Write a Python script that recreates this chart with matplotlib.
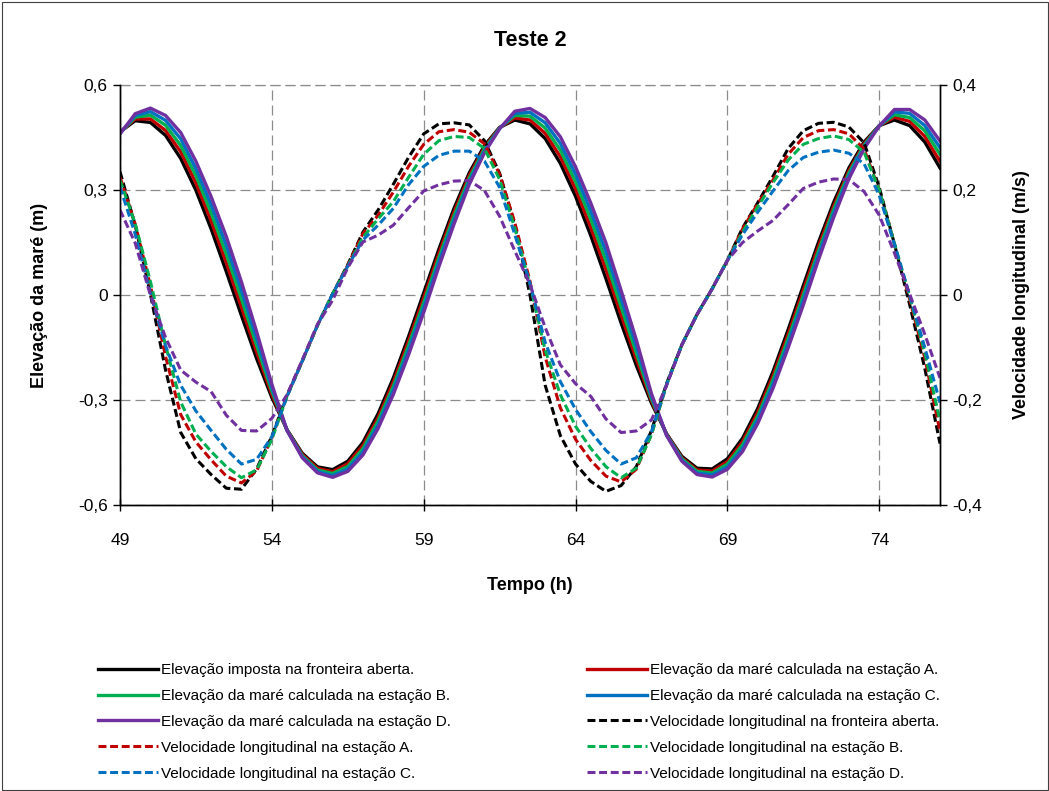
import numpy as np
import matplotlib
matplotlib.use("Agg")
import matplotlib.pyplot as plt
from matplotlib.patches import Rectangle

plt.rcParams["font.family"] = ["Liberation Sans", "DejaVu Sans"]

# ----- data (half-hour samples) -----
tempo = np.arange(49.0, 76.01, 0.5)

# tidal elevation (m), left axis
elev_fronteira = [0.466, 0.498, 0.493, 0.456, 0.390, 0.299, 0.189, 0.067, -0.059, -0.182, -0.293,
                  -0.385, -0.452, -0.491, -0.499, -0.475, -0.421, -0.339, -0.237, -0.119, 0.006,
                  0.131, 0.248, 0.349, 0.427, 0.479, 0.500, 0.489, 0.447, 0.376, 0.282, 0.170,
                  0.047, -0.080, -0.201, -0.309, -0.397, -0.461, -0.495, -0.497, -0.468, -0.409,
                  -0.324, -0.219, -0.099, 0.027, 0.151, 0.265, 0.363, 0.437, 0.484, 0.500, 0.484,
                  0.437, 0.363]
elev_A = [0.465, 0.503, 0.503, 0.470, 0.409, 0.320, 0.212, 0.092, -0.035, -0.163, -0.284,
          -0.386, -0.455, -0.495, -0.505, -0.482, -0.430, -0.350, -0.249, -0.132, -0.008,
          0.119, 0.237, 0.341, 0.422, 0.478, 0.506, 0.500, 0.462, 0.395, 0.303, 0.193,
          0.073, -0.057, -0.183, -0.302, -0.398, -0.465, -0.500, -0.503, -0.476, -0.419,
          -0.335, -0.231, -0.112, 0.013, 0.139, 0.254, 0.355, 0.432, 0.484, 0.508, 0.496,
          0.453, 0.382]
elev_B = [0.463, 0.508, 0.514, 0.485, 0.427, 0.341, 0.235, 0.117, -0.011, -0.144, -0.274,
          -0.386, -0.459, -0.500, -0.510, -0.490, -0.439, -0.360, -0.261, -0.145, -0.022,
          0.106, 0.226, 0.333, 0.417, 0.477, 0.513, 0.511, 0.477, 0.414, 0.324, 0.217,
          0.098, -0.034, -0.165, -0.296, -0.400, -0.468, -0.504, -0.509, -0.483, -0.428,
          -0.346, -0.243, -0.125, -0.001, 0.126, 0.244, 0.348, 0.428, 0.484, 0.515, 0.507,
          0.469, 0.402]
elev_C = [0.462, 0.513, 0.524, 0.499, 0.446, 0.361, 0.258, 0.142, 0.013, -0.124, -0.265,
          -0.387, -0.462, -0.504, -0.516, -0.497, -0.448, -0.371, -0.272, -0.158, -0.036,
          0.094, 0.214, 0.324, 0.411, 0.476, 0.519, 0.522, 0.492, 0.433, 0.345, 0.240,
          0.124, -0.010, -0.146, -0.289, -0.401, -0.472, -0.509, -0.514, -0.491, -0.438,
          -0.356, -0.255, -0.138, -0.014, 0.114, 0.233, 0.340, 0.423, 0.483, 0.523, 0.519,
          0.484, 0.421]
elev_D = [0.460, 0.518, 0.534, 0.513, 0.464, 0.382, 0.281, 0.167, 0.037, -0.105, -0.255,
          -0.387, -0.465, -0.508, -0.521, -0.504, -0.457, -0.381, -0.284, -0.171, -0.050,
          0.081, 0.203, 0.316, 0.406, 0.475, 0.525, 0.533, 0.507, 0.452, 0.366, 0.263,
          0.149, 0.013, -0.128, -0.282, -0.402, -0.475, -0.513, -0.520, -0.498, -0.447,
          -0.367, -0.267, -0.151, -0.028, 0.101, 0.222, 0.332, 0.418, 0.483, 0.530, 0.530,
          0.500, 0.440]

# longitudinal velocity (m/s), right axis
vel_fronteira = [0.235, 0.133, 0.002, -0.143, -0.262, -0.312, -0.342, -0.368, -0.370, -0.331, -0.269,
                 -0.191, -0.126, -0.058, 0.002, 0.058, 0.120, 0.162, 0.211, 0.262, 0.307,
                 0.326, 0.328, 0.324, 0.294, 0.232, 0.133, 0.000, -0.172, -0.268, -0.322,
                 -0.355, -0.374, -0.363, -0.327, -0.258, -0.168, -0.095, -0.037, 0.012, 0.066,
                 0.128, 0.176, 0.226, 0.279, 0.313, 0.327, 0.329, 0.320, 0.290, 0.205,
                 0.097, -0.018, -0.140, -0.283]
vel_A = [0.225, 0.135, 0.018, -0.117, -0.228, -0.280, -0.314, -0.345, -0.358, -0.335, -0.272,
         -0.192, -0.126, -0.058, 0.002, 0.057, 0.117, 0.152, 0.196, 0.245, 0.287,
         0.311, 0.315, 0.310, 0.288, 0.230, 0.138, 0.026, -0.118, -0.215, -0.275,
         -0.315, -0.345, -0.356, -0.332, -0.265, -0.170, -0.095, -0.037, 0.012, 0.066,
         0.126, 0.174, 0.219, 0.268, 0.300, 0.313, 0.315, 0.307, 0.278, 0.200,
         0.097, -0.008, -0.120, -0.260]
vel_B = [0.219, 0.136, 0.026, -0.096, -0.204, -0.265, -0.298, -0.327, -0.348, -0.333, -0.275,
         -0.193, -0.126, -0.058, 0.002, 0.055, 0.110, 0.145, 0.178, 0.224, 0.268,
         0.294, 0.302, 0.300, 0.279, 0.220, 0.127, 0.020, -0.105, -0.190, -0.250,
         -0.292, -0.327, -0.348, -0.330, -0.266, -0.170, -0.095, -0.037, 0.012, 0.066,
         0.120, 0.168, 0.214, 0.257, 0.287, 0.298, 0.303, 0.296, 0.272, 0.200,
         0.098, -0.002, -0.110, -0.240]
vel_C = [0.206, 0.116, 0.004, -0.097, -0.172, -0.221, -0.258, -0.294, -0.322, -0.313, -0.270,
         -0.193, -0.126, -0.058, 0.002, 0.055, 0.105, 0.133, 0.165, 0.210, 0.245,
         0.266, 0.274, 0.274, 0.255, 0.205, 0.115, 0.022, -0.090, -0.165, -0.218,
         -0.260, -0.296, -0.322, -0.310, -0.260, -0.170, -0.095, -0.037, 0.012, 0.066,
         0.115, 0.158, 0.198, 0.237, 0.262, 0.272, 0.276, 0.270, 0.250, 0.190,
         0.096, 0.000, -0.100, -0.205]
vel_D = [0.162, 0.099, 0.000, -0.081, -0.143, -0.166, -0.184, -0.229, -0.258, -0.259, -0.235,
         -0.190, -0.124, -0.056, -0.010, 0.052, 0.101, 0.114, 0.133, 0.166, 0.198,
         0.210, 0.217, 0.218, 0.199, 0.150, 0.084, 0.020, -0.062, -0.133, -0.169,
         -0.193, -0.236, -0.262, -0.259, -0.238, -0.172, -0.095, -0.037, 0.012, 0.066,
         0.100, 0.122, 0.142, 0.172, 0.203, 0.215, 0.221, 0.220, 0.197, 0.152,
         0.080, 0.002, -0.075, -0.158]

elev_labels = ["Elevação imposta na fronteira aberta.",
               "Elevação da maré calculada na estação A.",
               "Elevação da maré calculada na estação B.",
               "Elevação da maré calculada na estação C.",
               "Elevação da maré calculada na estação D."]
vel_labels = ["Velocidade longitudinal na fronteira aberta.",
              "Velocidade longitudinal na estação A.",
              "Velocidade longitudinal na estação B.",
              "Velocidade longitudinal na estação C.",
              "Velocidade longitudinal na estação D."]
cores = ["#000000", "#C00000", "#00B050", "#0070C0", "#7030A0"]

x_ticks = [49, 54, 59, 64, 69, 74]
y_left_ticks = [-0.6, -0.3, 0.0, 0.3, 0.6]
y_left_labels = ["-0,6", "-0,3", "0", "0,3", "0,6"]
y_right_ticks = [-0.4, -0.2, 0.0, 0.2, 0.4]
y_right_labels = ["-0,4", "-0,2", "0", "0,2", "0,4"]

# ----- figure -----
W, H = 1049, 791
fig = plt.figure(figsize=(W / 100, H / 100), dpi=100)
fig.patches.append(Rectangle((1.5 / W, 1.5 / H), 1 - 3 / W, 1 - 3 / H, transform=fig.transFigure,
                             fill=False, edgecolor="#404040", linewidth=0.8))

ax = fig.add_axes([120 / W, 1 - 505 / H, 820 / W, 420 / H])
ax2 = ax.twinx()

grid_style = dict(color="#8c8c8c", linewidth=0.9, linestyle=(0, (8, 4)))
ax.set_xlim(49, 76)
ax.set_ylim(-0.6, 0.6)
ax2.set_ylim(-0.4, 0.4)
ax.set_xticks(x_ticks)
ax.set_xticklabels([str(v) for v in x_ticks])
ax.set_yticks(y_left_ticks)
ax.set_yticklabels(y_left_labels)
ax2.set_yticks(y_right_ticks)
ax2.set_yticklabels(y_right_labels)
ax.grid(True, **grid_style)
ax.set_axisbelow(True)

for a in (ax, ax2):
    a.spines["top"].set_visible(False)
    for s in ("left", "right", "bottom"):
        a.spines[s].set_linewidth(1.0)
ax.tick_params(axis="x", direction="inout", length=9, width=1, labelsize=12.5, pad=16)
ax.tick_params(axis="y", direction="out", length=5, width=1, labelsize=12.5, pad=4)
ax2.tick_params(axis="y", direction="out", length=5, width=1, labelsize=12.5, pad=4)
# top gridline at 0.6 stands in for the missing top spine
ax.axhline(0.6, clip_on=False, **grid_style)

elevs = [elev_fronteira, elev_A, elev_B, elev_C, elev_D]
vels = [vel_fronteira, vel_A, vel_B, vel_C, vel_D]
dash = (0, (2.6, 1.2))

h_elev, h_vel = [], []
for serie, cor, lab in zip(elevs, cores, elev_labels):
    ln, = ax.plot(tempo, serie, color=cor, linewidth=2.4, label=lab, solid_joinstyle="round")
    h_elev.append(ln)
for serie, cor, lab in zip(vels, cores, vel_labels):
    ln, = ax2.plot(tempo, serie, color=cor, linewidth=2.2, linestyle=dash, label=lab,
                   dash_capstyle="butt")
    h_vel.append(ln)

fig.text(530 / W, 1 - 40 / H, "Teste 2", ha="center", va="center", fontsize=15.5, fontweight="bold")
fig.text(530 / W, 1 - 585 / H, "Tempo (h)", ha="center", va="center", fontsize=13, fontweight="bold")
fig.text(40 / W, 1 - 295 / H, "Elevação da maré (m)", ha="center", va="center",
         rotation=90, fontsize=13, fontweight="bold")
fig.text(1022 / W, 1 - 295 / H, "Velocidade longitudinal (m/s)", ha="center", va="center",
         rotation=90, fontsize=13, fontweight="bold")

# legend: Excel fills row-wise, so split into two column legends
todos = h_elev + h_vel
col1 = todos[0::2]
col2 = todos[1::2]
leg_kw = dict(frameon=False, fontsize=11, handlelength=3.9, handletextpad=0.2,
              labelspacing=0.78, borderpad=0, borderaxespad=0, loc="upper left")
fig.legend(handles=col1, bbox_to_anchor=(98 / W, 1 - 663 / H), **leg_kw)
fig.legend(handles=col2, bbox_to_anchor=(587 / W, 1 - 663 / H), **leg_kw)

fig.savefig("out.png", dpi=100)
